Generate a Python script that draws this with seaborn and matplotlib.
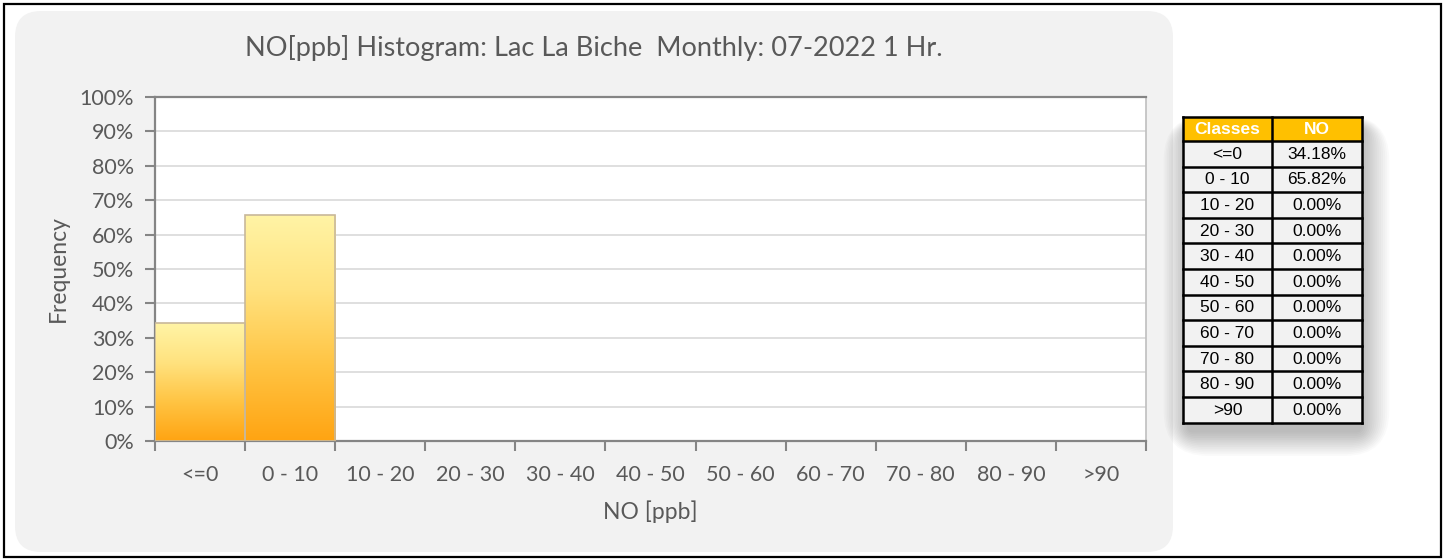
import numpy as np
import matplotlib
matplotlib.use("Agg")
import matplotlib.pyplot as plt
import matplotlib.patches as mpatches
from matplotlib.colors import LinearSegmentedColormap
from matplotlib.ticker import FuncFormatter, MultipleLocator
import seaborn as sns

# Histogram data: NO concentration classes and their frequency (%)
classes = ["<=0", "0 - 10", "10 - 20", "20 - 30", "30 - 40", "40 - 50",
           "50 - 60", "60 - 70", "70 - 80", "80 - 90", ">90"]
no_pct = [34.18, 65.82, 0.0, 0.0, 0.0, 0.0, 0.0, 0.0, 0.0, 0.0, 0.0]

title = "NO[ppb] Histogram: Lac La Biche  Monthly: 07-2022 1 Hr."
x_label = "NO [ppb]"
y_label = "Frequency"
table_header = ["Classes", "NO"]

sns.set_theme(style="white")
plt.rcParams["font.family"] = ["Lato", "DejaVu Sans"]

W, H = 1445, 560
fig = plt.figure(figsize=(W / 100, H / 100), dpi=100)
fig.patch.set_facecolor("white")

# Background layer in pixel coordinates
bg = fig.add_axes([0, 0, 1, 1], zorder=0)
bg.set_xlim(0, W)
bg.set_ylim(H, 0)
bg.axis("off")

# outer frame
bg.add_patch(mpatches.Rectangle((4, 4), W - 8, H - 7, fill=False,
                                edgecolor="black", lw=1.6))
# rounded chart panel
bg.add_patch(mpatches.FancyBboxPatch((15, 11), 1158, 541,
                                     boxstyle="round,pad=0,rounding_size=26",
                                     facecolor="#f2f2f2", edgecolor="none"))

# Chart
L, R, T, B = 155, 1146, 97, 441
ax = fig.add_axes([L / W, 1 - B / H, (R - L) / W, (B - T) / H], zorder=2)
ax.set_facecolor("white")

df_bars = {"cls": classes, "pct": no_pct}
sns.barplot(x=df_bars["cls"], y=df_bars["pct"], ax=ax, width=1.0,
            color="#ffc000", edgecolor="#c8b89a", linewidth=1.2, zorder=3)

grad_cmap = LinearSegmentedColormap.from_list(
    "amber", ["#ffa412", "#ffc443", "#ffe27f", "#fff4a6"])
grad = np.linspace(0, 1, 256).reshape(-1, 1)
for p in ax.patches:
    h = p.get_height()
    if h <= 0:
        p.set_visible(False)
        continue
    x0 = p.get_x()
    w = p.get_width()
    im = ax.imshow(grad, extent=[x0, x0 + w, 0, h], origin="lower",
                   cmap=grad_cmap, aspect="auto", zorder=3.5,
                   interpolation="bicubic")
    im.set_clip_path(p)
    p.set_facecolor("none")
    p.set_zorder(4)

ax.set_xlim(-0.5, len(classes) - 0.5)
ax.set_ylim(0, 100)
ax.yaxis.set_major_locator(MultipleLocator(10))
ax.yaxis.set_major_formatter(FuncFormatter(lambda v, _: f"{v:.0f}%"))
ax.grid(axis="y", color="#d9d9d9", lw=1.2, zorder=0)
ax.set_axisbelow(True)

for side in ["left", "bottom", "top"]:
    ax.spines[side].set_color("#858585")
    ax.spines[side].set_linewidth(1.6)
ax.spines["right"].set_color("#bfbfbf")
ax.spines["right"].set_linewidth(1.2)

ax.set_xticks(np.arange(len(classes)))
ax.set_xticklabels(classes)
ax.set_xticks(np.arange(-0.5, len(classes), 1.0), minor=True)
ax.tick_params(axis="x", which="major", length=0, pad=17,
               labelsize=15.5, labelcolor="#595959")
ax.tick_params(axis="x", which="minor", bottom=True, length=7,
               width=1.5, color="#858585", direction="out")
ax.tick_params(axis="y", left=True, length=7, width=1.5, color="#858585",
               direction="out", labelsize=15.5, labelcolor="#595959", pad=8)

ax.set_xlabel(x_label, fontsize=16.5, color="#595959", labelpad=11)
ax.set_ylabel(y_label, fontsize=16.5, color="#595959", labelpad=8)

fig.text(594 / W, 1 - 48 / H, title, ha="center", va="center",
         fontsize=19.5, color="#595959")

# Summary table with drop shadow
tx0, tx1, tmid = 1183, 1362, 1272
ty0, hdr_h, row_h = 117, 24, 25.6
ty1 = ty0 + hdr_h + row_h * len(classes)

for k in range(14):
    grow = 3 * k
    bg.add_patch(mpatches.FancyBboxPatch(
        (tx0 + 4 - grow * 0.6, ty0 + 10 - grow * 0.3),
        (tx1 - tx0) - 4 + grow * 1.3, (ty1 - ty0) + grow * 0.9,
        boxstyle=f"round,pad=0,rounding_size={6 + grow}",
        facecolor="black", alpha=0.018, edgecolor="none", zorder=1))

bg.add_patch(mpatches.Rectangle((tx0, ty0), tx1 - tx0, hdr_h,
                                facecolor="#ffc000", edgecolor="none", zorder=2))
bg.add_patch(mpatches.Rectangle((tx0, ty0 + hdr_h), tx1 - tx0, ty1 - ty0 - hdr_h,
                                facecolor="#f2f2f2", edgecolor="none", zorder=2))

tfont = ["Liberation Sans", "DejaVu Sans"]
tsize = 12.5
bg.text((tx0 + tmid) / 2, ty0 + hdr_h / 2 + 0.5, table_header[0], ha="center",
        va="center", color="white", fontweight="bold", fontsize=tsize,
        family=tfont, zorder=4)
bg.text((tmid + tx1) / 2, ty0 + hdr_h / 2 + 0.5, table_header[1], ha="center",
        va="center", color="white", fontweight="bold", fontsize=tsize,
        family=tfont, zorder=4)

for i, (c, v) in enumerate(zip(classes, no_pct)):
    yc = ty0 + hdr_h + row_h * (i + 0.5) + 0.5
    bg.text((tx0 + tmid) / 2, yc, c, ha="center", va="center",
            color="black", fontsize=tsize, family=tfont, zorder=4)
    bg.text((tmid + tx1) / 2, yc, f"{v:.2f}%", ha="center", va="center",
            color="black", fontsize=tsize, family=tfont, zorder=4)

# grid lines of the table
for i in range(len(classes) + 2):
    yy = ty0 if i == 0 else ty0 + hdr_h + row_h * (i - 1)
    bg.plot([tx0, tx1], [yy, yy], color="black", lw=1.8, zorder=5,
            solid_capstyle="projecting")
for xx in (tx0, tmid, tx1):
    bg.plot([xx, xx], [ty0, ty1], color="black", lw=1.8, zorder=5,
            solid_capstyle="projecting")

fig.savefig("out.png", dpi=100, facecolor="white")
